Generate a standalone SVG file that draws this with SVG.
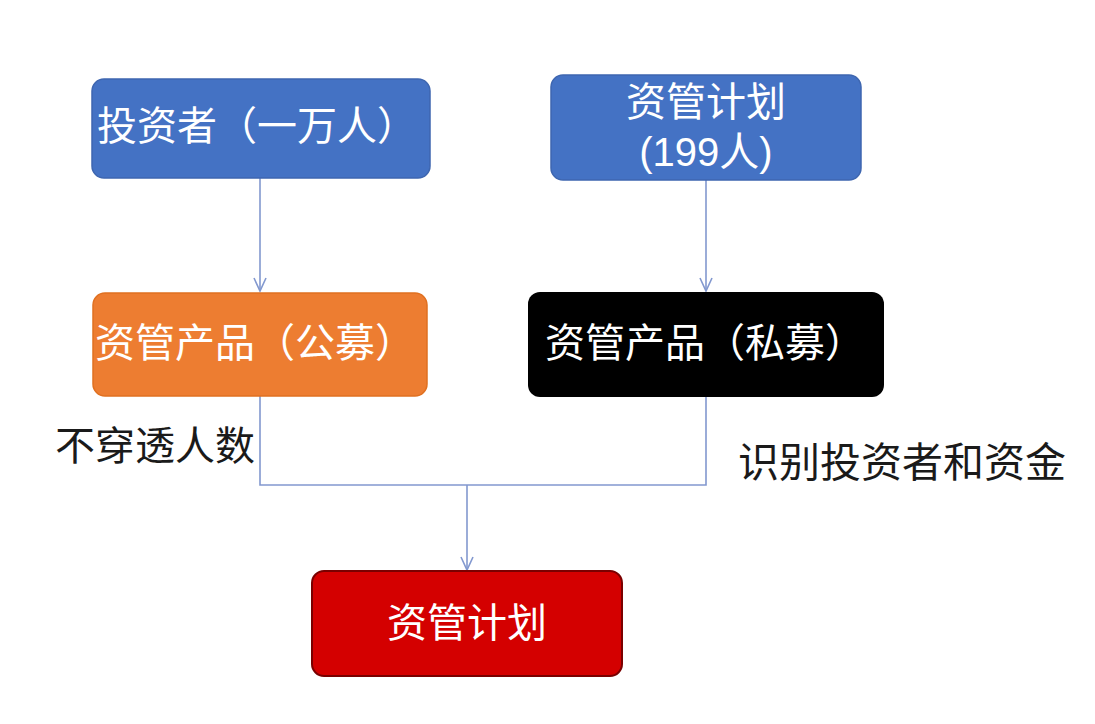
<svg xmlns="http://www.w3.org/2000/svg" width="1095" height="724" viewBox="0 0 1095 724">
<defs>
<style>
.t{font-family:"Liberation Sans","Noto Sans CJK SC",sans-serif;font-size:40px;dominant-baseline:central}
.w{fill:#ffffff}
.lbl{fill:#1a1a1a;font-size:40px}
.c{fill:none;stroke:#8298cf;stroke-width:1.6}
</style>
<marker id="ah" markerWidth="16" markerHeight="16" refX="14" refY="7" orient="auto" markerUnits="userSpaceOnUse">
<path d="M1,1 L14,7 L1,13" fill="none" stroke="#8298cf" stroke-width="1.6"/>
</marker>
</defs>
<rect width="1095" height="724" fill="#ffffff"/>
<g id="connectors">
<path class="c" d="M260,178 V291" marker-end="url(#ah)"/>
<path class="c" d="M706,180 V291" marker-end="url(#ah)"/>
<path class="c" d="M260,396 V485 H706 V397"/>
<path class="c" d="M467,485 V570" marker-end="url(#ah)"/>
</g>
<g id="n1">
<rect x="92" y="79" width="338" height="99" rx="12" fill="#4472c4" stroke="#3e66b0" stroke-width="1.5"/>
<text class="t w" x="97" y="126">投资者（一万人）</text>
</g>
<g id="n2">
<rect x="551" y="75" width="310" height="105" rx="12" fill="#4472c4" stroke="#3e66b0" stroke-width="1.5"/>
<text class="t w" x="706" y="102" text-anchor="middle">资管计划</text>
<text class="t w" x="706" y="152" text-anchor="middle">(199人)</text>
</g>
<g id="n3">
<rect x="93" y="293" width="334" height="103" rx="12" fill="#ed7d31" stroke="#e07020" stroke-width="1.5"/>
<text class="t w" x="95" y="343">资管产品（公募）</text>
</g>
<g id="n4">
<rect x="528" y="292" width="356" height="105" rx="12" fill="#000000"/>
<text class="t w" x="545" y="343">资管产品（私募）</text>
</g>
<g id="n5">
<rect x="312" y="571" width="310" height="105" rx="12" fill="#d40000" stroke="#7a0000" stroke-width="2"/>
<text class="t w" x="467" y="623" text-anchor="middle">资管计划</text>
</g>
<g id="labels">
<text class="t lbl" x="55" y="446">不穿透人数</text>
<text class="t lbl" x="738" y="463" style="font-size:41px">识别投资者和资金</text>
</g>
</svg>
